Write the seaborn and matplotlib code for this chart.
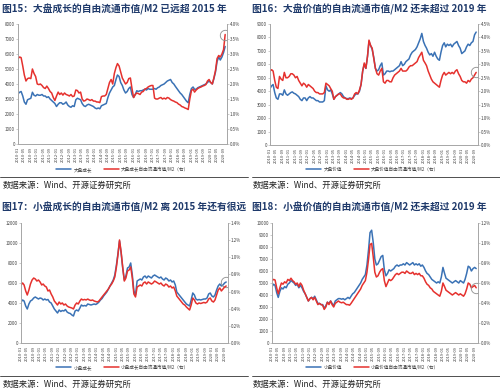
import matplotlib
matplotlib.use('Agg')
import numpy as np
import pandas as pd
import matplotlib.pyplot as plt
import matplotlib.dates as mdates
from matplotlib.ticker import FuncFormatter, MultipleLocator
from matplotlib.lines import Line2D
import seaborn as sns

sns.set_theme(style='white')
plt.rcParams['font.family'] = ['Noto Sans CJK SC', 'DejaVu Sans']
plt.rcParams['axes.unicode_minus'] = False

START = '2010-01-01'

# 大盘成长
lg_mcap = [3350,3450,3500,3200,2800,2650,2950,3000,3050,3450,
           3250,3200,3300,3250,3250,3300,3200,3200,3100,3150,
           3000,2900,2800,2700,2500,2650,2750,2750,2650,2700,
           2800,2600,2500,2450,2550,2500,2950,3050,3000,2950,
           2700,2550,2500,2600,2650,2600,2550,2500,2400,2350,
           2400,2350,2550,2600,2650,2700,3100,3400,3600,3800,
           3900,4300,4600,4500,4100,3900,3600,3400,3500,3700,
           3800,3300,3100,3300,3550,3500,3550,3550,3600,3650,
           3600,3700,3650,3650,3650,3700,3650,3750,3800,3900,
           3950,4000,4100,4200,4250,4300,4100,4000,3850,3700,
           3550,3400,3300,3150,3000,2850,2750,3300,3700,3800,
           3650,3650,3750,3800,3850,3900,3950,4000,4100,4200,
           4100,4000,4350,4800,5500,5800,5600,5800,6100,6500]
lg_ratio = [2.85,2.90,2.88,2.60,2.30,2.10,2.18,2.20,2.18,2.50,
            2.35,2.25,2.00,1.98,2.00,1.95,1.88,1.85,1.93,1.85,
            1.75,1.70,1.55,1.45,1.60,1.73,1.65,1.70,1.63,1.70,
            1.65,1.63,1.60,1.65,1.58,1.60,1.80,1.78,1.70,1.73,
            1.50,1.43,1.45,1.50,1.48,1.45,1.48,1.43,1.43,1.40,
            1.40,1.38,1.58,1.60,1.60,1.65,1.85,2.05,2.15,2.00,
            2.35,2.55,2.68,2.60,2.40,2.20,2.10,2.00,2.05,2.18,
            2.20,1.85,1.55,1.65,1.70,1.68,1.65,1.73,1.75,1.83,
            1.85,1.90,1.93,1.95,1.95,1.53,1.50,1.50,1.53,1.55,
            1.50,1.53,1.50,1.55,1.53,1.48,1.45,1.43,1.40,1.38,
            1.33,1.30,1.25,1.23,1.20,1.18,1.15,1.50,1.78,1.83,
            1.73,1.80,1.85,1.88,1.90,1.93,1.95,1.98,2.10,2.15,
            2.05,2.00,2.20,2.45,2.85,2.95,2.90,3.00,3.15,3.65]

# 大盘价值
lv_mcap = [4200,4400,4500,3900,3500,3400,3800,3800,3700,4100,
           3800,3700,3800,3900,3950,3850,3800,3700,3600,3400,
           3300,3500,3500,3300,3500,3600,3500,3500,3400,3300,
           3300,3200,3200,3200,3300,4400,4100,4000,4100,3800,
           3400,3600,3700,3800,3900,3800,3600,3500,3450,3450,
           3500,3450,3500,3700,3800,3800,4000,4500,5500,6000,
           5700,6600,7700,7400,7100,6500,5700,5500,5600,5900,
           6100,5200,5300,5500,5500,5450,5500,5500,5600,5700,
           5800,5900,6200,5900,6000,6200,6300,6400,6700,6900,
           7000,7100,7300,7600,7900,8300,7700,7400,7200,6900,
           6700,6800,6600,6900,6600,6400,6300,6900,7400,7600,
           7300,7500,7400,7500,7300,7500,7600,7700,7400,7200,
           6800,6900,7000,7300,7500,7400,7600,7700,8200,8400]
lv_ratio = [2.75,2.80,2.75,2.40,2.15,2.10,2.55,2.45,2.40,2.70,
            2.50,2.50,2.55,2.65,2.65,2.60,2.50,2.55,2.40,2.30,
            2.20,2.30,2.25,2.15,2.25,2.20,2.15,2.10,2.00,1.95,
            1.95,1.90,1.90,1.90,1.95,2.30,2.25,2.20,2.10,2.00,
            1.70,1.80,1.85,1.90,1.90,1.80,1.75,1.75,1.70,1.70,
            1.73,1.70,1.75,1.90,1.95,1.90,2.05,2.25,2.75,3.05,
            2.85,3.30,3.90,3.70,3.60,3.20,2.85,2.65,2.60,2.75,
            2.85,2.35,2.30,2.40,2.40,2.35,2.35,2.50,2.60,2.65,
            2.70,2.75,2.85,2.75,2.75,2.75,2.80,2.90,2.95,2.95,
            3.00,3.05,3.10,3.25,3.35,3.45,3.15,3.05,2.95,2.75,
            2.60,2.45,2.35,2.30,2.25,2.20,2.15,2.40,2.60,2.70,
            2.60,2.65,2.70,2.65,2.70,2.65,2.75,2.80,2.65,2.55,
            2.40,2.35,2.35,2.30,2.40,2.35,2.45,2.50,2.60,2.70]

# 小盘成长
sg_mcap = [4100,4300,4200,3700,3400,3900,4200,4300,4500,4600,
           4500,4400,4500,4450,4300,4400,4300,4350,4100,4000,
           3700,3400,3200,3000,3300,3150,3250,3200,3350,3100,
           3000,2950,2800,2700,3200,3300,3200,3500,3800,3700,
           3750,3700,3900,3850,3800,3850,3900,3850,3950,4100,
           4300,4450,4700,4900,5100,5400,5700,6000,6300,6800,
           7800,9000,10200,9000,7500,6300,6700,7500,7600,8000,
           6800,5200,4800,6200,6300,6400,6300,6600,6700,6500,
           6700,6600,6500,6700,6800,6700,6600,6500,6600,6400,
           6300,6500,6400,6200,6300,6100,6200,5800,5100,4900,
           4700,4500,4300,4100,3900,3800,3700,4300,5000,4800,
           4400,4300,4350,4300,4350,4400,4400,4500,4900,5000,
           4700,4600,4800,5300,5700,5900,5700,5800,6000,6100]
sg_ratio = [0.677,0.700,0.677,0.607,0.560,0.618,0.688,0.735,0.758,0.747,
            0.723,0.735,0.712,0.677,0.688,0.665,0.653,0.607,0.618,0.572,
            0.537,0.490,0.467,0.443,0.478,0.455,0.467,0.443,0.455,0.432,
            0.420,0.414,0.408,0.397,0.443,0.467,0.455,0.490,0.513,0.502,
            0.508,0.502,0.513,0.502,0.496,0.502,0.490,0.484,0.478,0.490,
            0.513,0.537,0.560,0.583,0.607,0.630,0.665,0.688,0.723,0.770,
            0.887,1.038,1.202,1.062,0.887,0.723,0.758,0.840,0.852,0.887,
            0.758,0.572,0.537,0.653,0.665,0.677,0.665,0.700,0.712,0.688,
            0.712,0.700,0.688,0.700,0.723,0.712,0.700,0.688,0.700,0.677,
            0.665,0.688,0.677,0.653,0.665,0.642,0.653,0.607,0.548,0.525,
            0.502,0.478,0.455,0.443,0.420,0.403,0.385,0.443,0.525,0.502,
            0.467,0.455,0.467,0.461,0.467,0.473,0.467,0.478,0.513,0.525,
            0.490,0.478,0.502,0.560,0.618,0.642,0.607,0.630,0.653,0.665]

# 小盘价值
sv_mcap = [4700,4900,4800,4200,3800,4300,4600,4500,4700,4600,
           4900,5000,5200,5100,5000,4800,4900,4600,4800,4600,
           4300,4100,3800,3500,3700,3800,3700,3900,3600,3300,
           3300,3200,3200,2900,3100,3400,3300,3500,3300,3100,
           3500,3600,3700,3700,3650,3700,3600,3700,3800,3700,
           3900,4100,4200,4400,4600,4800,5000,5300,5500,5700,
           6500,7800,9200,9400,8400,7000,6500,6600,6900,7200,
           7300,6100,5600,5800,6100,6000,6100,6200,6400,6500,
           6400,6500,6500,6600,6500,6700,6600,6500,6600,6700,
           6500,6600,6500,6600,6400,6500,6300,6000,5800,5700,
           5500,5300,5200,5100,5000,5100,5000,5500,6300,5800,
           5400,5300,5200,5100,5000,5100,5200,5100,5000,5200,
           5100,5000,5300,5800,6400,6300,6000,6200,6300,6200]
sv_ratio = [0.624,0.636,0.630,0.552,0.492,0.552,0.600,0.588,0.612,0.600,
            0.636,0.624,0.648,0.624,0.612,0.588,0.600,0.564,0.600,0.576,
            0.528,0.492,0.456,0.420,0.444,0.456,0.432,0.456,0.420,0.384,
            0.396,0.384,0.378,0.336,0.360,0.408,0.384,0.420,0.384,0.360,
            0.396,0.408,0.420,0.408,0.402,0.408,0.396,0.384,0.384,0.378,
            0.396,0.420,0.444,0.468,0.492,0.516,0.540,0.576,0.600,0.624,
            0.708,0.840,0.984,0.996,0.864,0.708,0.660,0.672,0.708,0.732,
            0.744,0.624,0.564,0.600,0.636,0.624,0.636,0.660,0.684,0.696,
            0.684,0.696,0.708,0.708,0.696,0.720,0.708,0.696,0.696,0.708,
            0.684,0.696,0.684,0.696,0.672,0.672,0.648,0.612,0.588,0.576,
            0.552,0.540,0.516,0.504,0.492,0.480,0.468,0.516,0.600,0.564,
            0.528,0.516,0.504,0.492,0.480,0.492,0.504,0.492,0.480,0.492,
            0.480,0.468,0.492,0.540,0.600,0.588,0.552,0.564,0.576,0.552]

titles = ['图15：大盘成长的自由流通市值/M2 已远超 2015 年',
          '图16：大盘价值的自由流通市值/M2 还未超过 2019 年',
          '图17：小盘成长的自由流通市值/M2 离 2015 年还有很远',
          '图18：小盘价值的自由流通市值/M2 还未超过 2019 年']
names = ['大盘成长', '大盘价值', '小盘成长', '小盘价值']
source = '数据来源：Wind、开源证券研究所'

BLUE = '#3A72B5'
RED = '#E5312E'
TITLE_C = '#1F3A6B'
SPINE_C = '#A6A6A6'
TXT_C = '#404040'

W, H = 500, 392
fig = plt.figure(figsize=(W / 100, H / 100), dpi=100)
fig.patch.set_facecolor('white')


def fx(px):
    return px / W


def fy(py):
    return 1 - py / H


panels = [
    dict(mcap=lg_mcap, ratio=lg_ratio, box=(18, 24, 227, 144), ymax=8000, ystep=1000,
         rmax=4.0, rstep=0.5, rdec=1, circ='ratio', tx=2, ty=9, ly=169, sy=185, sepy=177, lx=123),
    dict(mcap=lv_mcap, ratio=lv_ratio, box=(270, 24, 478, 145), ymax=9000, ystep=1000,
         rmax=4.5, rstep=0.5, rdec=1, circ='ratio', tx=252, ty=9, ly=169, sy=185, sepy=177, lx=373),
    dict(mcap=sg_mcap, ratio=sg_ratio, box=(21, 223, 228, 343), ymax=12000, ystep=2000,
         rmax=1.4, rstep=0.2, rdec=1, circ='mcap', tx=2, ty=207, ly=367, sy=384, sepy=376, lx=123),
    dict(mcap=sv_mcap, ratio=sv_ratio, box=(272, 223, 478, 343), ymax=10000, ystep=1000,
         rmax=1.2, rstep=0.2, rdec=1, circ='ratio', tx=252, ty=207, ly=367, sy=384, sepy=376, lx=373),
]

for i, p in enumerate(panels):
    x0, y0, x1, y1 = p['box']
    ax = fig.add_axes([fx(x0), fy(y1), fx(x1 - x0), (y1 - y0) / H])
    ax2 = ax.twinx()
    d1 = pd.date_range(START, periods=len(p['mcap']), freq='MS')
    d2 = pd.date_range(START, periods=len(p['ratio']), freq='MS')
    sns.lineplot(x=d1, y=p['mcap'], ax=ax, color=BLUE, lw=1.1, legend=False)
    sns.lineplot(x=d2, y=p['ratio'], ax=ax2, color=RED, lw=1.1, legend=False)

    ax.set_ylim(0, p['ymax'])
    ax2.set_ylim(0, p['rmax'])
    ax.yaxis.set_major_locator(MultipleLocator(p['ystep']))
    ax2.yaxis.set_major_locator(MultipleLocator(p['rstep']))
    ax.yaxis.set_major_formatter(FuncFormatter(lambda v, _: f'{int(round(v))}'))
    dec = p['rdec']
    ax2.yaxis.set_major_formatter(FuncFormatter(lambda v, _, d=dec: f'{v:.{d}f}%'))
    ax.set_xlim(d1[0], d1[-1] + pd.Timedelta(days=35))
    ax.xaxis.set_major_locator(mdates.MonthLocator(bymonth=[1, 5, 9]))
    ax.xaxis.set_major_formatter(mdates.DateFormatter('%Y-%m'))
    ax.set_xlabel('')
    ax.set_ylabel('')
    ax2.set_ylabel('')
    for a in (ax, ax2):
        a.set_facecolor('none')
        for s in a.spines.values():
            s.set_color(SPINE_C)
            s.set_linewidth(0.6)
        a.spines['top'].set_visible(False)
        a.tick_params(axis='both', labelsize=3.2, colors=TXT_C, length=1.2, width=0.4, pad=1.0)
        a.tick_params(axis='both', color=SPINE_C)
        a.grid(False)
    ax.tick_params(axis='x', labelsize=2.9, pad=0.8)
    plt.setp(ax.get_xticklabels(), rotation=90)

    # highlight circle around the latest point
    if p['circ'] == 'ratio':
        ax2.plot([d2[-1]], [p['ratio'][-1]], marker='o', ms=7.5, mfc='none', mec='#8C8C8C', mew=0.6)
    else:
        ax.plot([d1[-1]], [p['mcap'][-1]], marker='o', ms=7.5, mfc='none', mec='#8C8C8C', mew=0.6)

    handles = [Line2D([], [], color=BLUE, lw=1.1), Line2D([], [], color=RED, lw=1.1)]
    labels = [names[i], names[i] + '自由流通市值/M2（右）']
    ax.legend(handles, labels, loc='center', bbox_to_anchor=(fx(p['lx']), fy(p['ly'])),
              bbox_transform=fig.transFigure, ncol=2, frameon=False, fontsize=3.3,
              handlelength=3.2, columnspacing=2.5, handletextpad=0.6, labelcolor=TXT_C,
              borderpad=0.1)

    fig.text(fx(p['tx']), fy(p['ty']), titles[i], color=TITLE_C, fontsize=7, fontweight='bold',
             ha='left', va='center')
    fig.text(fx(p['tx'] + 1), fy(p['sy']), source, color='#222222', fontsize=6,
             ha='left', va='center')
    lx0 = 0 if p['tx'] < 100 else 252
    lx1 = 248 if p['tx'] < 100 else 500
    fig.add_artist(Line2D([fx(lx0), fx(lx1)], [fy(p['sepy']), fy(p['sepy'])],
                          transform=fig.transFigure, color='#333333', lw=0.6))

fig.savefig('out.png', dpi=100, facecolor='white')
